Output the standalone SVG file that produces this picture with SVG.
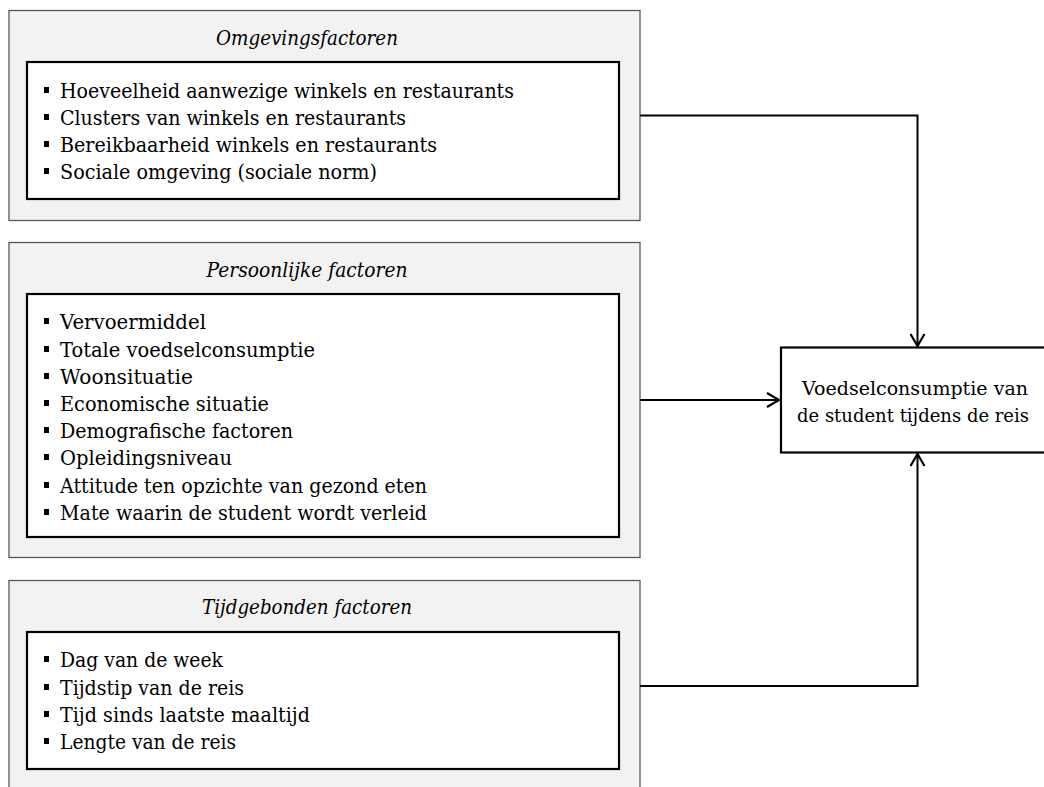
<svg xmlns="http://www.w3.org/2000/svg" width="1044" height="787" viewBox="0 0 1044 787">
<defs>
<style>
.outer{fill:#f2f2f2;stroke:#595959;stroke-width:1.3}
.inner{fill:#fff;stroke:#000;stroke-width:2.2}
.t{font-family:"DejaVu Serif","Liberation Serif",serif;font-size:20.5px;fill:#000}
.tr{font-family:"DejaVu Serif","Liberation Serif",serif;font-size:18.5px;fill:#000}
.ti{font-family:"DejaVu Serif","Liberation Serif",serif;font-size:20.5px;font-style:italic;fill:#000}
.b{fill:#000}
.c{fill:none;stroke:#000;stroke-width:2}
</style>
<marker id="arr" viewBox="0 0 14 16" refX="13" refY="8" markerWidth="14" markerHeight="16" markerUnits="userSpaceOnUse" orient="auto">
<path d="M1,1 L13,8 L1,15" fill="none" stroke="#000" stroke-width="2.2"/>
</marker>
</defs>
<rect width="1044" height="787" fill="#fff"/>

<g id="omgeving">
<rect class="outer" x="9" y="10.5" width="631" height="210"/>
<text class="ti" x="307" y="45" text-anchor="middle" textLength="182" lengthAdjust="spacingAndGlyphs">Omgevingsfactoren</text>
<rect class="inner" x="27" y="62" width="592" height="137"/>
<rect class="b" x="44" y="87" width="5" height="6"/>
<text class="t" x="60" y="98" textLength="454" lengthAdjust="spacingAndGlyphs">Hoeveelheid aanwezige winkels en restaurants</text>
<rect class="b" x="44" y="114" width="5" height="6"/>
<text class="t" x="60" y="125" textLength="346" lengthAdjust="spacingAndGlyphs">Clusters van winkels en restaurants</text>
<rect class="b" x="44" y="141" width="5" height="6"/>
<text class="t" x="60" y="152" textLength="377" lengthAdjust="spacingAndGlyphs">Bereikbaarheid winkels en restaurants</text>
<rect class="b" x="44" y="168" width="5" height="6"/>
<text class="t" x="60" y="179" textLength="317" lengthAdjust="spacingAndGlyphs">Sociale omgeving (sociale norm)</text>
</g>

<g id="persoonlijk">
<rect class="outer" x="9" y="242.5" width="631" height="315"/>
<text class="ti" x="307" y="277" text-anchor="middle" textLength="201" lengthAdjust="spacingAndGlyphs">Persoonlijke factoren</text>
<rect class="inner" x="27" y="294" width="592" height="243"/>
<rect class="b" x="44" y="318" width="5" height="6"/>
<text class="t" x="60" y="329" textLength="146" lengthAdjust="spacingAndGlyphs">Vervoermiddel</text>
<rect class="b" x="44" y="346" width="5" height="6"/>
<text class="t" x="60" y="357" textLength="255" lengthAdjust="spacingAndGlyphs">Totale voedselconsumptie</text>
<rect class="b" x="44" y="373" width="5" height="6"/>
<text class="t" x="60" y="384" textLength="133" lengthAdjust="spacingAndGlyphs">Woonsituatie</text>
<rect class="b" x="44" y="400" width="5" height="6"/>
<text class="t" x="60" y="411" textLength="209" lengthAdjust="spacingAndGlyphs">Economische situatie</text>
<rect class="b" x="44" y="427" width="5" height="6"/>
<text class="t" x="60" y="438" textLength="233" lengthAdjust="spacingAndGlyphs">Demografische factoren</text>
<rect class="b" x="44" y="454" width="5" height="6"/>
<text class="t" x="60" y="465" textLength="172" lengthAdjust="spacingAndGlyphs">Opleidingsniveau</text>
<rect class="b" x="44" y="482" width="5" height="6"/>
<text class="t" x="60" y="493" textLength="367" lengthAdjust="spacingAndGlyphs">Attitude ten opzichte van gezond eten</text>
<rect class="b" x="44" y="509" width="5" height="6"/>
<text class="t" x="60" y="520" textLength="367" lengthAdjust="spacingAndGlyphs">Mate waarin de student wordt verleid</text>
</g>

<g id="tijd">
<rect class="outer" x="9" y="580.5" width="631" height="215"/>
<text class="ti" x="307" y="614" text-anchor="middle" textLength="210" lengthAdjust="spacingAndGlyphs">Tijdgebonden factoren</text>
<rect class="inner" x="27" y="632" width="592" height="137"/>
<rect class="b" x="44" y="656" width="5" height="6"/>
<text class="t" x="60" y="667" textLength="163" lengthAdjust="spacingAndGlyphs">Dag van de week</text>
<rect class="b" x="44" y="684" width="5" height="6"/>
<text class="t" x="60" y="695" textLength="184" lengthAdjust="spacingAndGlyphs">Tijdstip van de reis</text>
<rect class="b" x="44" y="711" width="5" height="6"/>
<text class="t" x="60" y="722" textLength="250" lengthAdjust="spacingAndGlyphs">Tijd sinds laatste maaltijd</text>
<rect class="b" x="44" y="738" width="5" height="6"/>
<text class="t" x="60" y="749" textLength="176" lengthAdjust="spacingAndGlyphs">Lengte van de reis</text>
</g>

<g id="voedselconsumptie">
<rect class="inner" x="781" y="347.5" width="270" height="105"/>
<text class="tr" x="915" y="395" text-anchor="middle" textLength="226" lengthAdjust="spacingAndGlyphs">Voedselconsumptie van</text>
<text class="tr" x="913" y="422" text-anchor="middle" textLength="232" lengthAdjust="spacingAndGlyphs">de student tijdens de reis</text>
</g>

<g id="connectors">
<path class="c" d="M640,115.5 H917.5 V346" marker-end="url(#arr)"/>
<path class="c" d="M640,400 H779" marker-end="url(#arr)"/>
<path class="c" d="M640,686 H917.5 V454" marker-end="url(#arr)"/>
</g>
</svg>
